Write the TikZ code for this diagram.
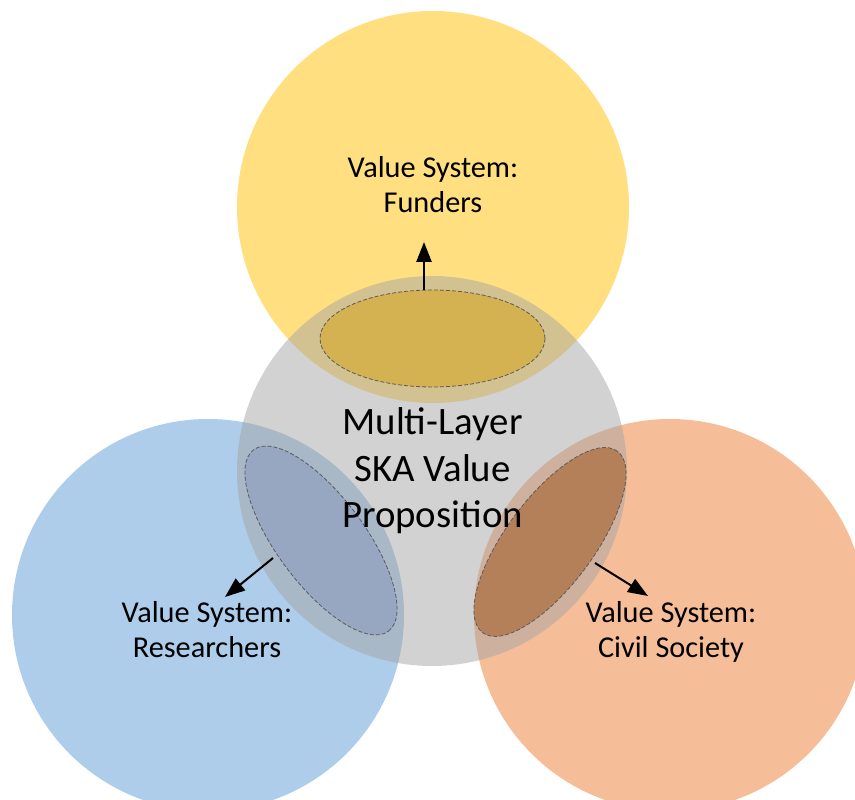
\documentclass[tikz,border=0pt]{standalone}
\usepackage{fontspec}
\setmainfont{Carlito}
\usetikzlibrary{shapes.geometric,arrows.meta}
\definecolor{cyel}{RGB}{255,192,0}
\definecolor{cblu}{RGB}{91,155,213}
\definecolor{corg}{RGB}{237,125,49}
\definecolor{cgry}{RGB}{165,165,165}
\definecolor{etop}{RGB}{212,177,81}
\definecolor{eleft}{RGB}{151,167,194}
\definecolor{eright}{RGB}{180,128,89}
\definecolor{edash}{RGB}{90,90,90}
\tikzset{
  vcircle/.style={circle, draw=none, fill opacity=0.5, inner sep=0pt, minimum size=392pt},
  lens/.style={ellipse, draw=edash, dashed, dash pattern=on 4pt off 2pt, line width=0.8pt, inner sep=0pt},
  smalltext/.style={anchor=base, inner sep=0pt, font=\fontsize{30.3}{36}\selectfont},
  bigtext/.style={anchor=base, inner sep=0pt, font=\fontsize{38.8}{46}\selectfont},
  arr/.style={-{Triangle[length=20pt,width=15pt]}, line width=2pt}
}
\begin{document}
\begin{tikzpicture}[x=1pt,y=1pt]
\useasboundingbox (0,0) rectangle (855,800);
% circles
\node[vcircle, fill=cyel] (fund) at (433,593) {};
\node[vcircle, fill=cblu] (res) at (208,185) {};
\node[vcircle, fill=corg] (civ) at (670,185) {};
\node[vcircle, fill=cgry, minimum size=390pt] (core) at (432,329) {};
% lenses
\node[lens, fill=etop, minimum width=225pt, minimum height=97pt] (ltop) at (432.5,461.5) {};
\node[lens, fill=eleft, minimum width=226pt, minimum height=88pt, rotate=-53.4] (lleft) at (321,259.5) {};
\node[lens, fill=eright, minimum width=226pt, minimum height=88pt, rotate=53.4] (lright) at (550,258) {};
% texts
\node[smalltext] (f1) at (433,622) {Value System:};
\node[smalltext] (f2) at (433,587) {Funders};
\node[smalltext] (r1) at (207,177) {Value System:};
\node[smalltext] (r2) at (207,142) {Researchers};
\node[smalltext] (c1) at (671,177) {Value System:};
\node[smalltext] (c2) at (671,142) {Civil Society};
\node[bigtext] (m1) at (432.5,365) {Multi-Layer};
\node[bigtext] (m2) at (432.5,318) {SKA Value};
\node[bigtext] (m3) at (432.5,272) {Proposition};
% arrows
\coordinate (atop0) at (424,510);
\coordinate (atop1) at (424,558);
\coordinate (aleft0) at (273,242);
\coordinate (aleft1) at (225,203);
\coordinate (aright0) at (595,237);
\coordinate (aright1) at (648,204);
\draw[arr, line width=2.5pt] (atop0) -- (atop1);
\draw[arr] (aleft0) -- (aleft1);
\draw[arr] (aright0) -- (aright1);
\end{tikzpicture}
\end{document}
